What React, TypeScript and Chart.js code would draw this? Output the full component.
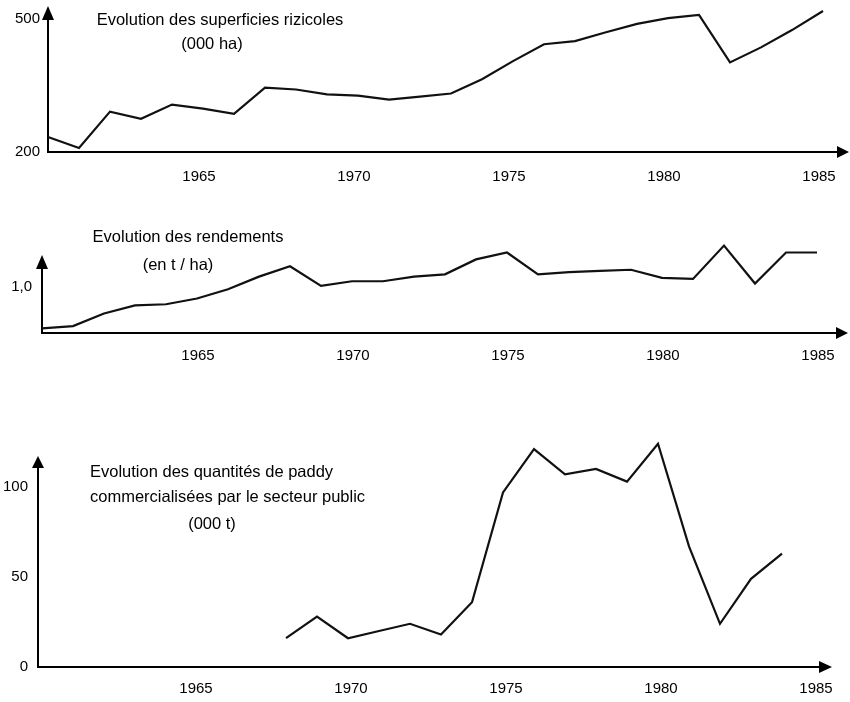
import React, { useEffect, useRef } from "react";
import { Chart, registerables } from "chart.js";

Chart.register(...registerables);

const FONT = '"Liberation Sans", Arial, Helvetica, sans-serif';
const W = 850;
const H = 702;

// ---- Data ----
const areaYears = [1960, 1961, 1962, 1963, 1964, 1965, 1966, 1967, 1968, 1969, 1970, 1971, 1972, 1973, 1974, 1975, 1976, 1977, 1978, 1979, 1980, 1981, 1982, 1983, 1984, 1985];
const areaValues = [234, 209, 291, 275, 307, 298, 286, 345, 341, 330, 327, 318, 325, 332, 364, 405, 443, 450, 470, 489, 502, 509, 402, 436, 475, 518];

const yieldYears = [1960, 1961, 1962, 1963, 1964, 1965, 1966, 1967, 1968, 1969, 1970, 1971, 1972, 1973, 1974, 1975, 1976, 1977, 1978, 1979, 1980, 1981, 1982, 1983, 1984, 1985];
const yieldValues = [0.64, 0.66, 0.77, 0.84, 0.85, 0.9, 0.98, 1.09, 1.18, 1.01, 1.05, 1.05, 1.09, 1.11, 1.24, 1.3, 1.11, 1.13, 1.14, 1.15, 1.08, 1.07, 1.36, 1.03, 1.3, 1.3];

const paddyYears = [1968, 1969, 1970, 1971, 1972, 1973, 1974, 1975, 1976, 1977, 1978, 1979, 1980, 1981, 1982, 1983, 1984];
const paddyValues = [16, 28, 16, 20, 24, 18, 36, 97, 121, 107, 110, 103, 124, 67, 24, 49, 63];

const xTickYears = [1965, 1970, 1975, 1980, 1985];
const areaTicks = [200, 500];
const yieldTicks = [1.0];
const paddyTicks = [0, 50, 100];

const areaTitle = ["Evolution des superficies rizicoles", "(000 ha)"];
const yieldTitle = ["Evolution des rendements", "(en t / ha)"];
const paddyTitle = ["Evolution des quantités de paddy", "commercialisées par le secteur public", "(000 t)"];

type Area = { left: number; top: number; right: number; bottom: number };
type TitleLine = { text: string; x: number; y: number; align: CanvasTextAlign };

interface Spec {
  years: number[];
  values: number[];
  area: Area;
  xMin: number;
  xMax: number;
  yMin: number;
  yMax: number;
  yTicks: number[];
  yFormat: (v: number) => string;
  xLabelOffset: number;
  xLabelPad: number;
  yLabelPad: number;
  titles: TitleLine[];
  yArrow: number;
  xArrow: number;
}

function makeConfig(s: Spec): any {
  const decor = {
    id: "decor",
    afterDraw(chart: any) {
      const { ctx, chartArea: a } = chart;
      ctx.save();
      ctx.fillStyle = "#000";
      // y arrow
      ctx.beginPath();
      ctx.moveTo(a.left, a.top - s.yArrow);
      ctx.lineTo(a.left - 6, a.top + 1);
      ctx.lineTo(a.left + 6, a.top + 1);
      ctx.closePath();
      ctx.fill();
      // x arrow
      ctx.beginPath();
      ctx.moveTo(a.right + s.xArrow, a.bottom);
      ctx.lineTo(a.right - 1, a.bottom - 6);
      ctx.lineTo(a.right - 1, a.bottom + 6);
      ctx.closePath();
      ctx.fill();
      // titles
      ctx.font = `16.5px ${FONT}`;
      ctx.textBaseline = "middle";
      for (const t of s.titles) {
        ctx.textAlign = t.align;
        ctx.fillText(t.text, t.x, t.y);
      }
      ctx.restore();
    },
  };

  return {
    type: "line",
    data: {
      datasets: [
        {
          data: s.years.map((y, i) => ({ x: y, y: s.values[i] })),
          borderColor: "#111",
          borderWidth: 2.2,
          pointRadius: 0,
          tension: 0,
          fill: false,
          clip: false,
        },
      ],
    },
    options: {
      responsive: false,
      animation: false,
      events: [],
      layout: { padding: { left: 0, top: s.area.top, right: W - s.area.right, bottom: 0 } },
      plugins: { legend: { display: false }, tooltip: { enabled: false }, title: { display: false } },
      scales: {
        x: {
          type: "linear",
          position: "bottom",
          min: s.xMin,
          max: s.xMax,
          grid: { display: false, drawTicks: false },
          border: { display: true, color: "#000", width: 2 },
          ticks: {
            font: { family: FONT, size: 15 },
            color: "#000",
            padding: s.xLabelPad,
            labelOffset: s.xLabelOffset,
            maxRotation: 0,
            autoSkip: false,
            callback: (v: any) => String(v),
          },
          afterBuildTicks: (sc: any) => {
            sc.ticks = xTickYears.map((v) => ({ value: v }));
          },
          afterFit: (sc: any) => {
            sc.height = H - s.area.bottom;
            sc.paddingLeft = 0;
            sc.paddingRight = 0;
          },
        },
        y: {
          type: "linear",
          min: s.yMin,
          max: s.yMax,
          grid: { display: false, drawTicks: false },
          border: { display: true, color: "#000", width: 2 },
          ticks: {
            font: { family: FONT, size: 15 },
            color: "#000",
            padding: s.yLabelPad,
            callback: (v: any) => s.yFormat(Number(v)),
          },
          afterBuildTicks: (sc: any) => {
            sc.ticks = s.yTicks.map((v) => ({ value: v }));
          },
          afterFit: (sc: any) => {
            sc.width = s.area.left;
            sc.paddingTop = 0;
            sc.paddingBottom = 0;
          },
        },
      },
    },
    plugins: [decor],
  };
}

const specs: Spec[] = [
  {
    years: areaYears,
    values: areaValues,
    area: { left: 48, top: 19, right: 838, bottom: 152 },
    xMin: 1960,
    xMax: 1960 + (838 - 48) / 31,
    yMin: 200,
    yMax: 500,
    yTicks: areaTicks,
    yFormat: (v) => String(v),
    xLabelOffset: -4,
    xLabelPad: 16,
    yLabelPad: 8,
    titles: [
      { text: areaTitle[0], x: 220, y: 20, align: "center" },
      { text: areaTitle[1], x: 212, y: 44, align: "center" },
    ],
    yArrow: 13,
    xArrow: 11,
  },
  {
    years: yieldYears,
    values: yieldValues,
    area: { left: 42, top: 268, right: 837, bottom: 333 },
    xMin: 1960,
    xMax: 1960 + (837 - 42) / 31,
    yMin: 0.6,
    yMax: 0.6 + (333 - 268) / 115,
    yTicks: yieldTicks,
    yFormat: (v) => v.toFixed(1).replace(".", ","),
    xLabelOffset: 1,
    xLabelPad: 14,
    yLabelPad: 10,
    titles: [
      { text: yieldTitle[0], x: 188, y: 237, align: "center" },
      { text: yieldTitle[1], x: 178, y: 265, align: "center" },
    ],
    yArrow: 13,
    xArrow: 11,
  },
  {
    years: paddyYears,
    values: paddyValues,
    area: { left: 38, top: 467, right: 820, bottom: 667 },
    xMin: 1960,
    xMax: 1960 + (820 - 38) / 31,
    yMin: 0,
    yMax: 200 / 1.8,
    yTicks: paddyTicks,
    yFormat: (v) => String(v),
    xLabelOffset: 3,
    xLabelPad: 13,
    yLabelPad: 10,
    titles: [
      { text: paddyTitle[0], x: 90, y: 472, align: "left" },
      { text: paddyTitle[1], x: 90, y: 497, align: "left" },
      { text: paddyTitle[2], x: 212, y: 524, align: "center" },
    ],
    yArrow: 11,
    xArrow: 12,
  },
];

function ChartLayer({ spec }: { spec: Spec }) {
  const ref = useRef<HTMLCanvasElement | null>(null);
  useEffect(() => {
    if (!ref.current) return;
    const chart = new Chart(ref.current, makeConfig(spec));
    return () => chart.destroy();
  }, [spec]);
  return (
    <canvas
      ref={ref}
      width={W}
      height={H}
      style={{ position: "absolute", left: 0, top: 0, width: W, height: H }}
    />
  );
}

export default function App() {
  return (
    <div style={{ position: "absolute", left: 0, top: 0, width: W, height: H, background: "#fff" }}>
      {specs.map((s, i) => (
        <ChartLayer key={i} spec={s} />
      ))}
    </div>
  );
}
